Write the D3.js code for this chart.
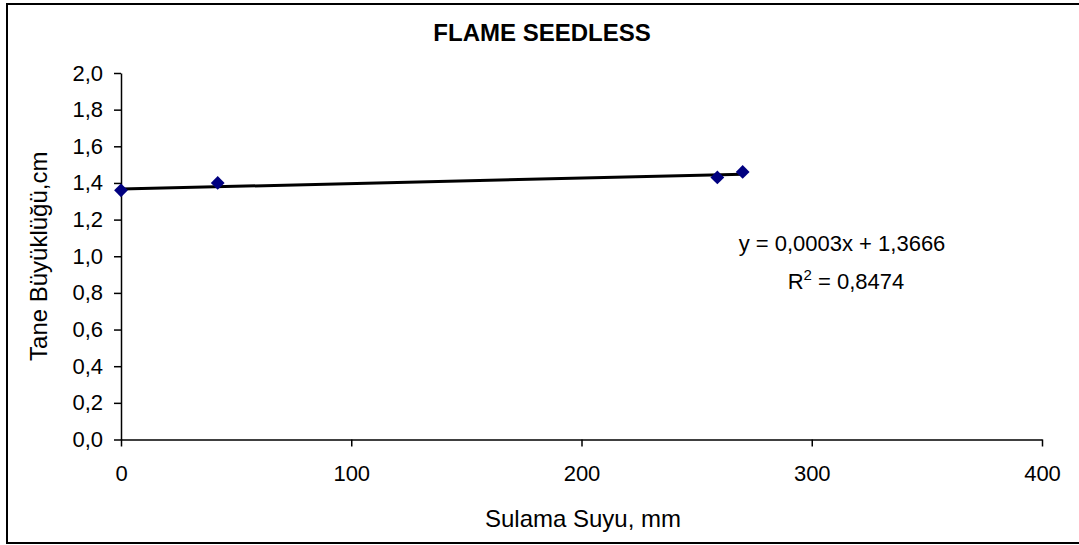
<!DOCTYPE html>
<html><head><meta charset="utf-8">
<script src="https://cdn.jsdelivr.net/npm/d3@7"></script>
<style>body{margin:0;background:#fff}svg{display:block}</style>
</head><body>
<svg id="c" width="1079" height="545"></svg>
<script>
const title = "FLAME SEEDLESS";
const xLabel = "Sulama Suyu, mm";
const yLabel = "Tane Büyüklüğü,cm";
const xValues = [0, 42, 259, 270];
const yValues = [1.36, 1.40, 1.43, 1.46];
const xTicks = [0, 100, 200, 300, 400];
const yTicks = [0, 0.2, 0.4, 0.6, 0.8, 1.0, 1.2, 1.4, 1.6, 1.8, 2.0];
const trendSlope = 0.0003, trendIntercept = 1.3666;
const trendRange = [0, 270];
const eqText = "y = 0,0003x + 1,3666";
const r2Value = "0,8474";

const svg = d3.select("#c");
const font = "'Liberation Sans', Arial, sans-serif";
svg.append("rect").attr("x",7).attr("y",4).attr("width",1090).attr("height",539)
  .attr("fill","#fff").attr("stroke","#000").attr("stroke-width",2);

const x = d3.scaleLinear().domain([0,400]).range([121,1042]);
const y = d3.scaleLinear().domain([0,2]).range([439.5,73]);

const fmt = d => d3.format(".1f")(d).replace(".", ",");

const gx = svg.append("g").attr("transform",`translate(0,${y(0)})`)
  .call(d3.axisBottom(x).tickValues(xTicks).tickSize(7).tickPadding(19).tickSizeOuter(0));
const gy = svg.append("g").attr("transform",`translate(${x(0)},0)`)
  .call(d3.axisLeft(y).tickValues(yTicks).tickFormat(fmt).tickSize(7).tickPadding(11).tickSizeOuter(0));
[gx,gy].forEach(g=>{
  g.selectAll("path,line").attr("stroke","#000").attr("stroke-width",1.5);
  g.selectAll("text").attr("fill","#000").style("font-family",font).style("font-size","22px");
});

svg.append("text").attr("x",542).attr("y",41).attr("text-anchor","middle")
  .style("font-family",font).style("font-size","24px").style("font-weight","bold").text(title);
svg.append("text").attr("x",583).attr("y",527).attr("text-anchor","middle")
  .style("font-family",font).style("font-size","24px").text(xLabel);
svg.append("text").attr("transform",`translate(47,${(y(0)+y(2))/2}) rotate(-90)`).attr("text-anchor","middle")
  .style("font-family",font).style("font-size","24px").text(yLabel);

// trendline
svg.append("line")
  .attr("x1",x(trendRange[0])).attr("y1",y(trendIntercept+trendSlope*trendRange[0]))
  .attr("x2",x(trendRange[1])).attr("y2",y(trendIntercept+trendSlope*trendRange[1]))
  .attr("stroke","#000").attr("stroke-width",3);

// points
svg.selectAll("path.pt").data(xValues.map((v,i)=>[v,yValues[i]])).join("path")
  .attr("class","pt")
  .attr("transform",d=>`translate(${x(d[0])},${y(d[1])}) rotate(45)`)
  .attr("d",d3.symbol().type(d3.symbolSquare).size(95))
  .attr("fill","#000080");

// equation
const eq = svg.append("g").style("font-family",font).style("font-size","22px");
eq.append("text").attr("x",842).attr("y",251).attr("text-anchor","middle").text(eqText);
const r2 = eq.append("text").attr("x",846).attr("y",289).attr("text-anchor","middle");
r2.append("tspan").text("R");
r2.append("tspan").attr("dy",-9).style("font-size","15px").text("2");
r2.append("tspan").attr("dy",9).text(" = " + r2Value);
</script>
</body></html>
